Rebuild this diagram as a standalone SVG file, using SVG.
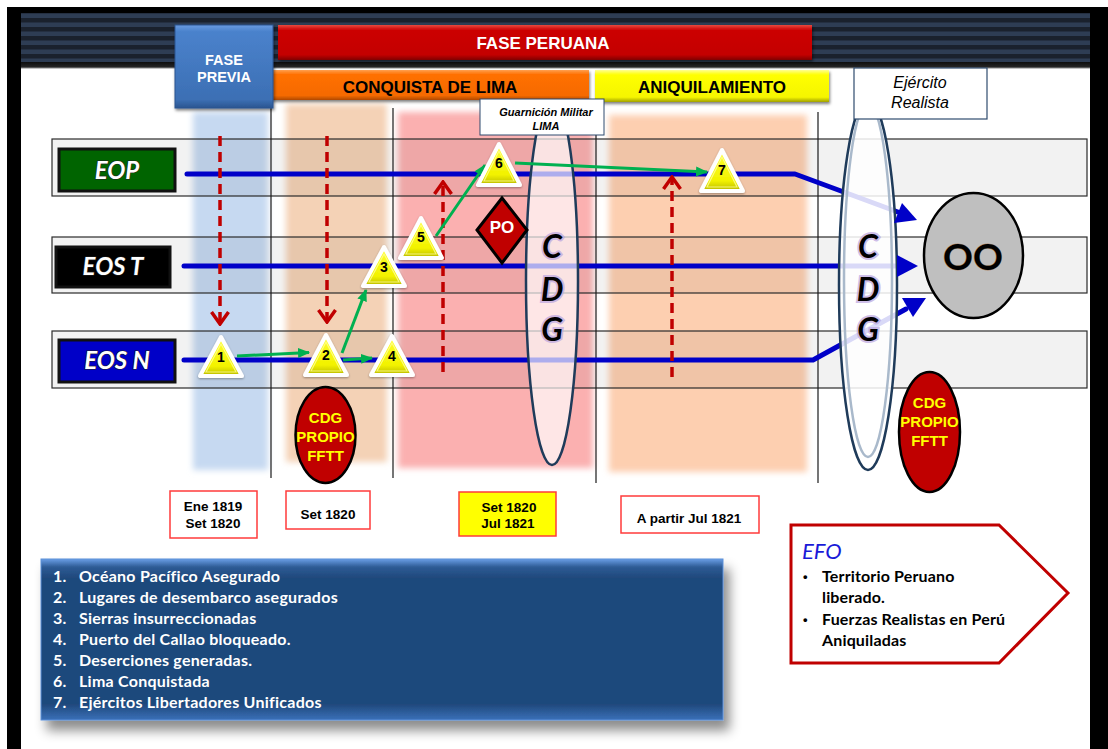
<svg xmlns="http://www.w3.org/2000/svg" width="1108" height="749" viewBox="0 0 1108 749">
<defs>
<style>
.band{filter:url(#soft)}
.row{fill:#000;fill-opacity:0.05;stroke:#2b2b2b;stroke-width:1.2}
.vl{stroke:#1a1a1a;stroke-width:1.2}
.bl{fill:none;stroke:#0000c8;stroke-width:5;stroke-linecap:round;stroke-linejoin:round}
.bah{fill:#0000c8}
.gr{fill:none;stroke:#00b050;stroke-width:3;marker-end:url(#gh)}
.rd{fill:none;stroke:#c00000;stroke-width:3.5;stroke-dasharray:10 6;marker-end:url(#ch)}
.tri{fill:url(#ty);stroke:#fff;stroke-width:4;stroke-linejoin:round;filter:url(#tsh)}
.tin{fill:none;stroke:#ffff99;stroke-width:1.2;opacity:0.8}
.tn{font-family:"Liberation Sans",Arial,sans-serif;font-weight:bold;font-size:14px;fill:#000;text-anchor:middle}
.lab{font-family:Lato,"Open Sans",sans-serif;font-weight:bold;font-style:italic;font-size:24px;fill:#fff;text-anchor:middle;stroke:#222;stroke-width:1.2;paint-order:stroke}
.labbox{stroke:#111;stroke-width:3}
.cdg{font-family:Lato,"Open Sans",sans-serif;font-weight:bold;font-style:italic;font-size:32px;fill:#000;text-anchor:middle;stroke:#b9a3e0;stroke-width:4;stroke-opacity:0.7;paint-order:stroke}
.dt{font-family:"Liberation Sans",Arial,sans-serif;font-weight:bold;font-size:13.5px;fill:#000;text-anchor:middle}
.dbox{fill:#fff;stroke:#ff3b3b;stroke-width:1.5}
.prop{fill:#c00000;stroke:#000;stroke-width:2.5}
.pt{font-family:"Liberation Sans",Arial,sans-serif;font-weight:bold;font-size:15px;fill:#ffff00;text-anchor:middle}
.hd{font-family:"Liberation Sans",Arial,sans-serif;font-weight:bold;font-size:17px;text-anchor:middle}
.lg{font-family:Lato,"Open Sans",sans-serif;font-weight:bold;font-size:16px;letter-spacing:0.25px;fill:#fff}
.ef{font-family:Lato,"Open Sans",sans-serif;font-weight:bold;font-size:16px;letter-spacing:0.15px;fill:#000}
.bu{font-family:"Liberation Sans",Arial,sans-serif;font-weight:bold;font-size:13px;fill:#000}
</style>
<pattern id="stripes" patternUnits="userSpaceOnUse" width="10" height="9">
<rect width="10" height="9" fill="#1a212d"/>
<rect y="4.5" width="10" height="4.5" fill="#2e3d54"/>
</pattern>
<filter id="soft" x="-10%" y="-5%" width="120%" height="110%"><feGaussianBlur stdDeviation="3"/></filter>
<filter id="sh" x="-10%" y="-10%" width="130%" height="140%"><feDropShadow dx="6" dy="10" stdDeviation="6" flood-color="#000" flood-opacity="0.45"/></filter>
<filter id="sh2" x="-10%" y="-10%" width="130%" height="140%"><feDropShadow dx="1" dy="2" stdDeviation="1.5" flood-color="#000" flood-opacity="0.5"/></filter>
<filter id="tsh" x="-20%" y="-20%" width="140%" height="150%"><feDropShadow dx="0" dy="1" stdDeviation="1.2" flood-color="#000" flood-opacity="0.35"/></filter>
<linearGradient id="ty" x1="0" y1="0" x2="0" y2="1">
<stop offset="0" stop-color="#ffff33"/><stop offset="0.75" stop-color="#f2f200"/><stop offset="1" stop-color="#b8b800"/>
</linearGradient>
<linearGradient id="gblue" x1="0" y1="0" x2="0" y2="1">
<stop offset="0" stop-color="#6a9be0"/><stop offset="0.08" stop-color="#4a82cc"/><stop offset="0.9" stop-color="#3c6fb4"/><stop offset="1" stop-color="#2a5590"/>
</linearGradient>
<linearGradient id="gred" x1="0" y1="0" x2="0" y2="1">
<stop offset="0" stop-color="#e84a40"/><stop offset="0.15" stop-color="#cc0000"/><stop offset="0.85" stop-color="#c40000"/><stop offset="1" stop-color="#800000"/>
</linearGradient>
<linearGradient id="gor" x1="0" y1="0" x2="0" y2="1">
<stop offset="0" stop-color="#ffa050"/><stop offset="0.15" stop-color="#ff7000"/><stop offset="0.85" stop-color="#f56a00"/><stop offset="1" stop-color="#b04800"/>
</linearGradient>
<linearGradient id="gye" x1="0" y1="0" x2="0" y2="1">
<stop offset="0" stop-color="#ffff90"/><stop offset="0.15" stop-color="#ffff00"/><stop offset="0.85" stop-color="#f5f500"/><stop offset="1" stop-color="#a0a000"/>
</linearGradient>
<linearGradient id="glg" x1="0" y1="0" x2="0" y2="1">
<stop offset="0" stop-color="#6a9ee6"/><stop offset="0.05" stop-color="#2e5b95"/><stop offset="0.12" stop-color="#1f487b"/><stop offset="0.9" stop-color="#1f487b"/><stop offset="1" stop-color="#3a70b8"/>
</linearGradient>
<linearGradient id="ghd" x1="0" y1="0" x2="0" y2="1">
<stop offset="0" stop-color="#0e0e0e"/><stop offset="1" stop-color="#2a2a2a"/>
</linearGradient>
<marker id="gh" viewBox="0 0 12 10" refX="11" refY="5" markerWidth="12" markerHeight="10" markerUnits="userSpaceOnUse" orient="auto">
<path d="M0,0 L12,5 L0,10 Z" fill="#00b050"/>
</marker>
<marker id="ch" viewBox="0 0 16 20" refX="14" refY="10" markerWidth="16" markerHeight="20" markerUnits="userSpaceOnUse" orient="auto">
<path d="M2,1.5 L14,10 L2,18.5" fill="none" stroke="#c00000" stroke-width="3.5"/>
</marker>
</defs>

<rect width="1108" height="749" fill="#fff"/>

<g id="frame">
<rect x="7" y="7" width="1101" height="742" fill="#000"/>
<rect x="21" y="68" width="1069" height="681" fill="#fff"/>
<rect x="21" y="13" width="1069" height="49" fill="url(#stripes)"/>
<rect x="21" y="62" width="1069" height="6" fill="url(#ghd)"/>
<line x1="21" y1="68" x2="1090" y2="68" stroke="#888" stroke-width="1"/>
</g>

<g id="bands">
<rect class="band" x="193" y="112" width="75" height="358" fill="#c6d9f1"/>
<rect class="band" x="286" y="104" width="101" height="358" fill="#f4d2b6"/>
<rect class="band" x="398" y="112" width="195" height="356" fill="#fbb0b0"/>
<rect class="band" x="609" y="115" width="198" height="357" fill="#fdcfb0"/>
</g>

<g id="rows">
<rect class="row" x="52" y="139" width="1035" height="57"/>
<rect class="row" x="52" y="237" width="1035" height="56"/>
<rect class="row" x="52" y="331" width="1035" height="57"/>
</g>

<g id="vlines">
<line class="vl" x1="271" y1="108" x2="271" y2="478"/>
<line class="vl" x1="393" y1="108" x2="393" y2="478"/>
<line class="vl" x1="596" y1="110" x2="596" y2="483"/>
<line class="vl" x1="818" y1="112" x2="818" y2="483"/>
</g>

<g id="connectors">
<path class="bl" d="M187,174 H795 L906,215"/>
<path class="bl" d="M184,266 H900"/>
<path class="bl" d="M184,360 H813 L906,309"/>

<g id="cdg1">
<ellipse cx="552" cy="281" rx="26" ry="184" fill="#fff" fill-opacity="0.68" stroke="#1f3b5a" stroke-width="2.5"/>
<text class="cdg" x="552" y="258">C</text>
<text class="cdg" x="552" y="301">D</text>
<text class="cdg" x="552" y="341">G</text>
</g>
<g id="cdg2">
<ellipse cx="868" cy="285" rx="29" ry="185" fill="#fff" fill-opacity="0.85" stroke="#1f3b5a" stroke-width="2.5"/>
<ellipse cx="868" cy="280" rx="24" ry="177" fill="none" stroke="#a9b9cb" stroke-width="2.5"/>
<text class="cdg" x="868" y="258">C</text>
<text class="cdg" x="868" y="301">D</text>
<text class="cdg" x="868" y="341">G</text>
</g>

<polygon class="bah" points="917,220 894,223 902,203"/>
<polygon class="bah" points="918,266 897,255 897,277"/>
<polygon class="bah" points="926,298 913,317 902,298"/>

<line class="rd" x1="220" y1="136" x2="220" y2="324"/>
<line class="rd" x1="327" y1="136" x2="327" y2="322"/>
<line class="rd" x1="443" y1="372" x2="443" y2="182"/>
<line class="rd" x1="672" y1="377" x2="672" y2="177"/>

<line class="gr" x1="237" y1="356" x2="309" y2="352.5"/>
<line class="gr" x1="342" y1="353" x2="366" y2="290"/>
<line class="gr" x1="343" y1="360" x2="372" y2="358"/>
<line class="gr" x1="436" y1="236" x2="485" y2="165"/>
<line class="gr" x1="515" y1="163" x2="707" y2="172"/>
</g>

<g id="eop"><rect class="labbox" x="59" y="149" width="116" height="42" fill="#006400"/><text class="lab" x="117" y="179">EOP</text></g>
<g id="eost"><rect class="labbox" x="56" y="247" width="114" height="40" fill="#000"/><text class="lab" x="113" y="275">EOS T</text></g>
<g id="eosn"><rect class="labbox" x="59" y="340" width="116" height="42" fill="#0000c8"/><text class="lab" x="117" y="369">EOS N</text></g>

<g id="t1"><polygon class="tri" points="221,337 200,376 242,376"/><polygon class="tin" points="221,344 206,372 236,372"/><text class="tn" x="221" y="362">1</text></g>
<g id="t2"><polygon class="tri" points="326,335 305,375 347,375"/><polygon class="tin" points="326,342 311,371 341,371"/><text class="tn" x="326" y="360">2</text></g>
<g id="t3"><polygon class="tri" points="384,247 363,286 405,286"/><polygon class="tin" points="384,254 369,282 399,282"/><text class="tn" x="384" y="272">3</text></g>
<g id="t4"><polygon class="tri" points="392,336 371,375 413,375"/><polygon class="tin" points="392,343 377,371 407,371"/><text class="tn" x="392" y="361">4</text></g>
<g id="t5"><polygon class="tri" points="421,218 400,258 442,258"/><polygon class="tin" points="421,225 406,254 436,254"/><text class="tn" x="421" y="242">5</text></g>
<g id="t6"><polygon class="tri" points="499,144 478,185 520,185"/><polygon class="tin" points="499,151 484,181 514,181"/><text class="tn" x="499" y="168">6</text></g>
<g id="t7"><polygon class="tri" points="722,150 701,191 743,191"/><polygon class="tin" points="722,157 707,187 737,187"/><text class="tn" x="722" y="175">7</text></g>

<g id="po"><polygon points="502,198 527,230 502,263 477,230" fill="#c00000" stroke="#000" stroke-width="3"/><text x="502" y="233" font-family="'Liberation Sans',Arial,sans-serif" font-weight="bold" font-size="17" fill="#fff" text-anchor="middle">PO</text></g>

<g id="oo"><ellipse cx="973.5" cy="255.5" rx="49.5" ry="62.5" fill="#bfbfbf" stroke="#000" stroke-width="2.5"/><text x="973" y="270" font-family="Lato,'Open Sans',sans-serif" font-weight="bold" font-size="37" fill="#000" text-anchor="middle" stroke="#a06020" stroke-width="0.8" stroke-opacity="0.6" paint-order="stroke">OO</text></g>

<g id="prop1"><ellipse class="prop" cx="325.5" cy="435" rx="30" ry="48"/><text class="pt" x="325.5" y="423">CDG</text><text class="pt" x="325.5" y="442">PROPIO</text><text class="pt" x="325.5" y="461">FFTT</text></g>
<g id="prop2"><ellipse class="prop" cx="929.5" cy="432" rx="30.5" ry="60"/><text class="pt" x="929.5" y="408">CDG</text><text class="pt" x="929.5" y="427">PROPIO</text><text class="pt" x="929.5" y="446">FFTT</text></g>

<g id="d1"><rect class="dbox" x="170" y="491" width="87" height="47"/><text class="dt" x="213" y="511">Ene 1819</text><text class="dt" x="213" y="528">Set 1820</text></g>
<g id="d2"><rect class="dbox" x="286" y="491" width="84" height="38"/><text class="dt" x="328" y="519">Set 1820</text></g>
<g id="d3"><rect x="459" y="492" width="97" height="44" fill="#ffff00" stroke="#ff3b3b" stroke-width="1.5"/><text class="dt" x="509" y="512">Set 1820</text><text class="dt" x="508" y="528">Jul 1821</text></g>
<g id="d4"><rect class="dbox" x="621" y="496" width="138" height="37"/><text class="dt" x="689" y="523">A partir Jul 1821</text></g>

<g id="fase-peruana"><rect x="278" y="25" width="534" height="35" fill="url(#gred)" filter="url(#sh2)"/><text class="hd" x="543" y="49" fill="#fff">FASE PERUANA</text></g>
<g id="conquista"><rect x="270" y="70" width="319" height="30" fill="url(#gor)" filter="url(#sh2)"/><text class="hd" x="430" y="93" fill="#000">CONQUISTA DE LIMA</text></g>
<g id="aniquilamiento"><rect x="595" y="70" width="234" height="32" fill="url(#gye)" filter="url(#sh2)"/><text class="hd" x="712" y="93" fill="#000">ANIQUILAMIENTO</text></g>
<g id="fase-previa"><rect x="175" y="25" width="98" height="83" fill="url(#gblue)" stroke="#2a5590" stroke-width="1" filter="url(#sh2)"/><text x="224" y="65" font-family="'Liberation Sans',Arial,sans-serif" font-weight="bold" font-size="14.5" fill="#fff" text-anchor="middle">FASE</text><text x="224" y="82" font-family="'Liberation Sans',Arial,sans-serif" font-weight="bold" font-size="14.5" fill="#fff" text-anchor="middle">PREVIA</text></g>
<g id="guarnicion"><rect x="480" y="99" width="124" height="36" fill="#fff" stroke="#2f4b6e" stroke-width="1"/><text x="546" y="116" font-family="'Liberation Sans',Arial,sans-serif" font-weight="bold" font-style="italic" font-size="11" fill="#000" text-anchor="middle">Guarnición Militar</text><text x="546" y="130" font-family="'Liberation Sans',Arial,sans-serif" font-weight="bold" font-style="italic" font-size="11" fill="#000" text-anchor="middle">LIMA</text></g>
<g id="realista"><rect x="854" y="68" width="133" height="51" fill="#fff" stroke="#2f4b6e" stroke-width="1.2"/><text x="920" y="88" font-family="'Liberation Sans',Arial,sans-serif" font-style="italic" font-size="16" fill="#000" text-anchor="middle">Ejército</text><text x="920" y="108" font-family="'Liberation Sans',Arial,sans-serif" font-style="italic" font-size="16" fill="#000" text-anchor="middle">Realista</text></g>

<g id="legend">
<rect x="41" y="559" width="682" height="161" fill="url(#glg)" stroke="#5b8fd8" stroke-width="1" filter="url(#sh)"/>
<text class="lg" x="53" y="582">1.</text><text class="lg" x="79" y="582">Océano Pacífico Asegurado</text>
<text class="lg" x="53" y="603">2.</text><text class="lg" x="79" y="603">Lugares de desembarco asegurados</text>
<text class="lg" x="53" y="624">3.</text><text class="lg" x="79" y="624">Sierras insurreccionadas</text>
<text class="lg" x="53" y="645">4.</text><text class="lg" x="79" y="645">Puerto del Callao bloqueado.</text>
<text class="lg" x="53" y="666">5.</text><text class="lg" x="79" y="666">Deserciones generadas.</text>
<text class="lg" x="53" y="687">6.</text><text class="lg" x="79" y="687">Lima Conquistada</text>
<text class="lg" x="53" y="708">7.</text><text class="lg" x="79" y="708">Ejércitos Libertadores Unificados</text>
</g>

<g id="efo">
<polygon points="791,525 999,525 1068,593 999,663 791,663" fill="#fff" stroke="#c00000" stroke-width="3"/>
<text x="802" y="559" font-family="Lato,'Open Sans',sans-serif" font-style="italic" font-size="22" fill="#1a1ad8">EFO</text>
<text class="bu" x="803" y="581">•</text><text class="ef" x="822" y="582">Territorio Peruano</text>
<text class="ef" x="822" y="603">liberado.</text>
<text class="bu" x="803" y="624">•</text><text class="ef" x="822" y="625">Fuerzas Realistas en Perú</text>
<text class="ef" x="822" y="646">Aniquiladas</text>
</g>
</svg>
